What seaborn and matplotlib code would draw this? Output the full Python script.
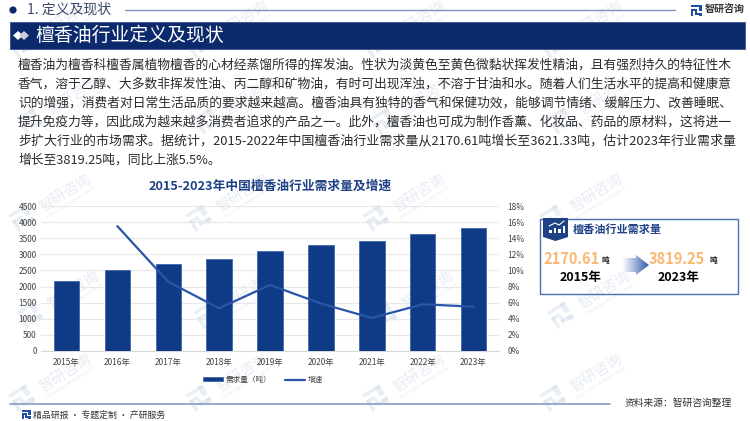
import numpy as np
import pandas as pd
import matplotlib
matplotlib.use('Agg')
import matplotlib.pyplot as plt
from matplotlib.patches import Polygon, Rectangle, Circle
from matplotlib.ticker import FixedLocator
import seaborn as sns

# ---- data ----
years = ['2015年', '2016年', '2017年', '2018年', '2019年', '2020年', '2021年', '2022年', '2023年']
demand = [2170.61, 2500, 2710, 2855, 3090, 3280, 3420, 3621.33, 3819.25]
growth = [np.nan, 15.5, 8.6, 5.3, 8.2, 5.9, 4.1, 5.8, 5.5]
left_ticks = [0, 500, 1000, 1500, 2000, 2500, 3000, 3500, 4000, 4500]
right_ticks = [0, 2, 4, 6, 8, 10, 12, 14, 16, 18]

section_title = '1. 定义及现状'
banner_title = '檀香油行业定义及现状'
chart_title = '2015-2023年中国檀香油行业需求量及增速'
paragraph = [
    '檀香油为檀香科檀香属植物檀香的心材经蒸馏所得的挥发油。性状为淡黄色至黄色微黏状挥发性精油，且有强烈持久的特征性木',
    '香气，溶于乙醇、大多数非挥发性油、丙二醇和矿物油，有时可出现浑浊，不溶于甘油和水。随着人们生活水平的提高和健康意',
    '识的增强，消费者对日常生活品质的要求越来越高。檀香油具有独特的香气和保健功效，能够调节情绪、缓解压力、改善睡眠、',
    '提升免疫力等，因此成为越来越多消费者追求的产品之一。此外，檀香油也可成为制作香薰、化妆品、药品的原材料，这将进一',
    '步扩大行业的市场需求。据统计，2015-2022年中国檀香油行业需求量从2170.61吨增长至3621.33吨，估计2023年行业需求量',
    '增长至3819.25吨，同比上涨5.5%。',
]

NAVY = '#0B2A6B'
BAR = '#0F3A85'
BLUE = '#1F4287'
LINE = '#2A55A8'
ORANGE = '#F9B870'

sns.set_theme(style='white')
plt.rcParams['font.family'] = ['Noto Sans CJK SC', 'DejaVu Sans']
plt.rcParams['axes.unicode_minus'] = False

W, H = 750, 421
fig = plt.figure(figsize=(W / 100, H / 100), dpi=100, facecolor='white')

# page layer, in pixel coordinates
bg = fig.add_axes([0, 0, 1, 1], zorder=0)
bg.set_xlim(0, W)
bg.set_ylim(H, 0)
bg.axis('off')


def logo(ax, x, y, s, color, alpha=1.0, angle=0, zorder=1):
    """Small square company mark, built from a few strokes."""
    parts = [(0, 0, 1, .18), (.72, 0, .28, .55), (0, .36, .5, .18), (0, .36, .18, .64),
             (.36, .72, .64, .18), (.36, .54, .18, .3), (.72, .72, .28, .28)]
    tr = matplotlib.transforms.Affine2D().rotate_deg_around(x, y, angle) + ax.transData
    for px, py, pw, ph in parts:
        ax.add_patch(Rectangle((x + px * s, y + py * s), pw * s, ph * s, fc=color, ec='none',
                               alpha=alpha, transform=tr, zorder=zorder))


# ---- faint watermark grid, kept inside the page and under everything else ----
for row, wy in enumerate([42, 118, 215, 312, 395]):
    for col in range(4):
        wx = 8 + col * 177 + (8 if row % 2 else 0)
        logo(bg, wx, wy, 20, '#C9D6E8', 0.38, -32, zorder=0.5)
        bg.text(wx + 33, wy - 6, '智研咨询', fontsize=10.5, color='#D3DCE9', alpha=0.55, rotation=32,
                ha='left', va='center', rotation_mode='anchor', zorder=0.5)
        bg.text(wx + 38, wy + 3, 'INTELLIGENCE RESEARCH GROUP', fontsize=2.6, color='#D3DCE9', alpha=0.6,
                rotation=32, ha='left', va='center', rotation_mode='anchor', zorder=0.5)

# ---- header ----
bg.add_patch(Circle((13, 10), 3.6, fc=NAVY, ec='none'))
bg.text(27, 10, section_title, fontsize=10, color='#3B4A6B', va='center')
bg.plot([125, 675], [10, 10], color='#8095C0', lw=1)
logo(bg, 691, 5, 11, '#1F4FA0')
bg.text(705, 10, '智研咨询', fontsize=7.2, color='#333333', fontweight='bold', va='center')

bg.add_patch(Rectangle((9.5, 22), 735.5, 27, fc=NAVY, ec='#3A5490', lw=0.6))
bg.add_patch(Polygon([(13, 35.5), (18, 31), (23, 35.5), (18, 40)], fc='white', ec='none'))
bg.add_patch(Polygon([(19, 35.5), (24, 31), (29, 35.5), (24, 40)], fc='#C9CDD6', ec='none'))
bg.text(35, 35.5, banner_title, fontsize=13.6, color='white', va='center')

# ---- paragraph: every full line is fitted to the same 715 px measure ----
renderer = fig.canvas.get_renderer()
for i, line in enumerate(paragraph):
    t = bg.text(18, 65 + i * 19, line, fontsize=9.2, color='#2B2B2B', va='center')
    if i < len(paragraph) - 1:
        t.set_fontsize(9.2 * 715 / t.get_window_extent(renderer).width)

bg.text(270, 186, chart_title, fontsize=9.2, color=BLUE, fontweight='bold', ha='center', va='center')

# ---- chart ----
df = pd.DataFrame({'year': years, 'demand': demand, 'growth': growth})
ax = fig.add_axes([41 / W, 1 - 351 / H, (499 - 41) / W, (351 - 206) / H], zorder=1)
ax.patch.set_alpha(0)
sns.barplot(data=df, x='year', y='demand', color=BAR, saturation=1, width=0.5, edgecolor='#3F66AB',
            linewidth=0.6, label='需求量（吨）', legend=False, ax=ax, zorder=3)
ax.set_ylim(0, 4500)
ax.set_xlim(-0.5, 8.5)
ax.yaxis.set_major_locator(FixedLocator(left_ticks))
ax.grid(axis='y', color='#E8E8E8', lw=0.9, zorder=0)
ax.set_axisbelow(True)
ax.set_xlabel('')
ax.set_ylabel('')
for side in ['top', 'left', 'right']:
    ax.spines[side].set_visible(False)
ax.spines['bottom'].set_color('#D9D9D9')
ax.spines['bottom'].set_linewidth(0.8)
ax.tick_params(axis='y', length=0, labelsize=6, labelcolor='#444444', pad=3)
ax.tick_params(axis='x', length=0, labelsize=6, labelcolor='#444444', pad=5)
# category separators on the axis line
ax.set_xticks(np.arange(-0.5, 9), minor=True)
ax.tick_params(axis='x', which='minor', length=2.5, color='#D9D9D9', width=0.7)

ax2 = ax.twinx()
ax2.patch.set_alpha(0)
sns.lineplot(data=df, x='year', y='growth', color=LINE, lw=1.6, sort=False, label='增速', legend=False, ax=ax2)
ax2.set_ylim(0, 18)
ax2.yaxis.set_major_locator(FixedLocator(right_ticks))
ax2.set_yticklabels([f'{t}%' for t in right_ticks])
ax2.set_ylabel('')
ax2.set_xlabel('')
ax2.grid(False)
for side in ['top', 'left', 'right', 'bottom']:
    ax2.spines[side].set_visible(False)
ax2.tick_params(axis='y', length=0, labelsize=6, labelcolor='#444444', pad=6)

h1, l1 = ax.get_legend_handles_labels()
h2, l2 = ax2.get_legend_handles_labels()
ax2.legend(h1 + h2, l1 + l2, ncol=2, loc='center', bbox_to_anchor=(263 / W, 1 - 380 / H),
           bbox_transform=fig.transFigure, frameon=False, fontsize=5.5, labelcolor='#444444',
           handlelength=2.6, handleheight=0.5, columnspacing=1.8, handletextpad=0.3)

# ---- right panel ----
bg.add_patch(Rectangle((540, 219), 198, 75, fc='none', ec='#4A6FB0', lw=1))
bg.add_patch(Polygon([(543, 218), (568, 218), (568, 237), (555.5, 241), (543, 237)], fc=BLUE, ec='none'))
for bx, bh in zip([549, 553.5, 558, 562.5], [3, 5, 4, 7]):
    bg.add_patch(Rectangle((bx, 233 - bh), 2.6, bh, fc='white', ec='none'))
bg.plot([549, 555, 559, 564], [226, 223, 225, 221], color='white', lw=0.8)
bg.text(573, 229, '檀香油行业需求量', fontsize=8, color=BLUE, fontweight='bold', va='center')

bg.text(543, 259, '2170.61', fontsize=10.5, color=ORANGE, fontweight='bold', va='center')
bg.text(601, 260, '吨', fontsize=5.5, color='#222222', fontweight='bold', va='center')
bg.text(581, 278, '2015年', fontsize=9, color='black', fontweight='bold', ha='center', va='center')
bg.text(649, 259, '3819.25', fontsize=10.5, color=ORANGE, fontweight='bold', va='center')
bg.text(709, 260, '吨', fontsize=5.5, color='#222222', fontweight='bold', va='center')
bg.text(679, 278, '2023年', fontsize=9, color='black', fontweight='bold', ha='center', va='center')

# gradient arrow between the two figures
arrow = Polygon([(622, 258), (636, 258), (636, 255), (649, 265), (636, 275), (636, 272), (622, 272)],
                fc='none', ec='none')
bg.add_patch(arrow)
cmap = matplotlib.colors.LinearSegmentedColormap.from_list('arrow', ['#FFFFFF', '#9DB2D6', '#2F5BA8'])
im = bg.imshow(np.linspace(0, 1, 64).reshape(1, -1), cmap=cmap, extent=(622, 649, 275, 255), aspect='auto',
               zorder=3)
im.set_clip_path(arrow)
bg.set_xlim(0, W)
bg.set_ylim(H, 0)

# ---- footer ----
bg.plot([10, 610], [404, 404], color='#8A9BBF', lw=1.2)
bg.text(625, 403, '资料来源：智研咨询整理', fontsize=7, color='#333333', va='center')
logo(bg, 22, 410, 9, '#1F4FA0')
bg.text(33, 415, '精品研报 · 专题定制 · 产研服务', fontsize=6.4, color='#333333', va='center')

fig.savefig('out.png', dpi=100)
